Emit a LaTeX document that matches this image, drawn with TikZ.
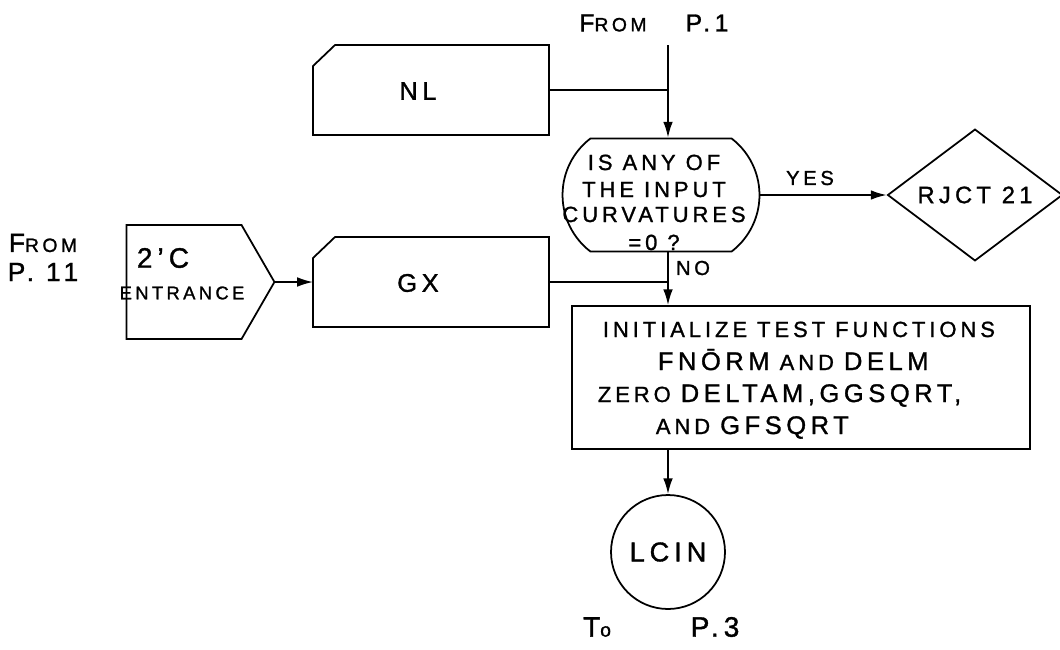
\documentclass[tikz,border=0pt]{standalone}
\usepackage{fontspec}
\setmainfont{Liberation Sans}[LetterSpace=18, FakeBold=1.2]
\usetikzlibrary{shapes.misc, shapes.geometric, shapes.symbols, arrows.meta, positioning}
\newcommand\fsz[1]{\fontsize{#1}{#1}\selectfont}

\begin{document}
\begin{tikzpicture}[x=0.02cm, y=-0.02cm, line width=1pt,
    txt/.style={inner sep=0pt, font=\fsz{12.5}},
    card/.style={rectangle, minimum width=4.72cm, minimum height=1.8cm,
        inner sep=0pt, outer sep=0pt},
    flow/.style={-{Latex[length=9pt,width=5.5pt]}}]

\useasboundingbox (0,0) rectangle (1060,649);

% Entry from page 1
\node[txt, font=\fsz{14}] (fromA) at (613,23) {F{\fsz{11}ROM}};
\node[txt, font=\fsz{14}] (pgA) at (707,23) {P.1};
\coordinate (top) at (668,45);

% Input cards NL and GX (top left corner cut off)
\node[card] (nl) at (431,90) {};
\node[txt, font=\fsz{14.5}] (nltxt) at (418,91) {NL};
\node[card] (gx) at (431,282) {};
\node[txt, font=\fsz{14.5}] (gxtxt) at (418,283) {GX};
\foreach \c in {nl,gx}
    \draw ([yshift=-0.42cm]\c.north west) -- ([xshift=0.44cm]\c.north west)
        -- (\c.north east) -- (\c.south east) -- (\c.south west) -- cycle;

% Entrance from page 11
\node[txt, font=\fsz{15}] (fromB) at (43,243) {F{\fsz{11}ROM}};
\node[txt, font=\fsz{15}] (pgB) at (43,272) {P. 11};
\node[draw, signal, signal to=east, signal pointer angle=120,
    minimum width=2.96cm, minimum height=2.28cm, inner sep=0pt] (ent) at (184,282) {};
\node[txt, font=\fsz{16}] (enttxt) at (163,258) {2’C};
\node[txt, font=\fsz{10.5}] (entlbl) at (182,293) {ENTRANCE};

% Test on the curvatures
\node[draw, rounded rectangle, rounded rectangle arc length=105,
    minimum width=3.94cm, minimum height=2.26cm, inner sep=0pt] (test) at (661,195) {};
\foreach \t/\y [count=\i] in {IS ANY OF/170, THE INPUT/197, CURVATURES/222, =0 ?/250}
    \node[txt, anchor=base] (q\i) at (654,\y) {\t};

% Reject exit
\node[draw, diamond, minimum width=3.5cm, minimum height=2.2cm, inner sep=0pt,
    font=\fsz{13.5}] (rjct) at (975,195) {RJCT 21};

% Initialization box
\node[draw, minimum width=9.16cm, minimum height=2.86cm] (init) at (801,377.5) {};
\node[txt, anchor=base west] (l1) at (602,337) {INITIALIZE TEST FUNCTIONS};
\node[txt, anchor=base west] (l2) at (657,370) {{\fsz{14.5}FN\=ORM} AND {\fsz{14.5}DELM}};
\node[txt, anchor=base west] (l3) at (597,402) {ZERO {\fsz{14.5}DELTAM,GGSQRT,}};
\node[txt, anchor=base west] (l4) at (655,434) {AND {\fsz{14.5}GFSQRT}};

% Exit to page 3
\node[draw, circle, minimum size=2.28cm, inner sep=0pt, font=\fsz{15.5}] (lcin) at (668,552) {LCIN};
\node[txt, font=\fsz{16}] (toC) at (597,627) {T{\fsz{11}o}};
\node[txt, font=\fsz{16}] (pgC) at (715,627) {P.3};

% Connectors
\draw[flow] (top) -- (top |- test.north);
\draw (nl.east) -- (nl.east -| top);
\draw[flow] (test.east) -- (rjct.west);
\node[txt, font=\fsz{11.5}] (yes) at (810,178) {YES};
\draw[flow] (top |- test.south) -- (top |- init.north);
\node[txt, font=\fsz{11.5}] (no) at (693,268) {NO};
\draw (gx.east) -- (gx.east -| top);
\draw[flow] (ent.east) -- (gx.west);
\draw[flow] (init.south -| lcin) -- (lcin.north);

\end{tikzpicture}
\end{document}
